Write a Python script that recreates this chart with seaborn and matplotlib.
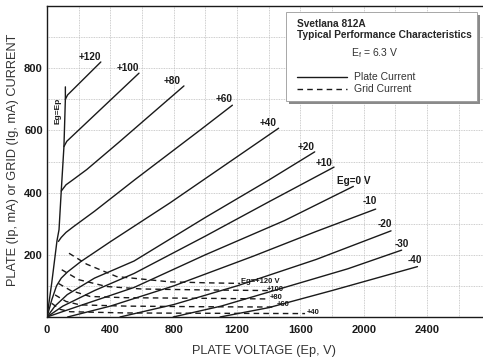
import matplotlib
matplotlib.use("Agg")
import matplotlib.pyplot as plt
import seaborn as sns
import pandas as pd
from matplotlib.patches import Rectangle
from matplotlib.lines import Line2D

# ---------------- data ----------------
x_ticks = [0, 400, 800, 1200, 1600, 2000, 2400]
y_ticks = [200, 400, 600, 800]

egep_v = [0, 30, 63, 76, 90, 107, 116, 116]
egep_i = [0, 110, 245, 281, 405, 548, 700, 740]

p120_v = [116, 130, 340]
p120_i = [700, 714, 820]
p100_v = [107, 125, 581]
p100_i = [548, 565, 784]
p80_v = [90, 120, 166, 251, 450, 865]
p80_i = [405, 425, 442, 474, 560, 743]
p60_v = [72, 90, 120, 166, 300, 556, 967, 1171]
p60_i = [243, 256, 272, 290, 340, 442, 601, 681]
p40_v = [0, 30, 60, 90, 130, 213, 400, 777, 1100, 1463]
p40_i = [0, 55, 100, 125, 145, 178, 242, 367, 480, 607]
p20_v = [0, 50, 128, 300, 550, 1000, 1400, 1691]
p20_i = [0, 35, 72, 125, 180, 320, 440, 531]
p10_v = [0, 100, 300, 550, 1000, 1400, 1813]
p10_i = [0, 35, 85, 140, 260, 370, 482]
p0_v = [0, 200, 550, 1000, 1500, 1935]
p0_i = [0, 35, 95, 200, 310, 420]
m10_v = [130, 400, 800, 1300, 1700, 2076]
m10_i = [0, 35, 100, 195, 275, 347]
m20_v = [461, 800, 1200, 1700, 2173]
m20_i = [0, 40, 100, 185, 277]
m30_v = [797, 1100, 1500, 1900, 2240]
m30_i = [0, 35, 95, 155, 215]
m40_v = [1093, 1400, 1800, 2340]
m40_i = [0, 30, 85, 162]

g120_v = [139, 250, 440, 777, 1000, 1220]
g120_i = [205, 170, 130, 113, 110, 108]
g100_v = [93, 200, 377, 600, 1000, 1400]
g100_i = [152, 120, 98, 90, 87, 85]
g80_v = [72, 150, 272, 500, 1000, 1400]
g80_i = [108, 85, 66, 62, 60, 58]
g60_v = [51, 120, 208, 500, 1000, 1440]
g60_i = [71, 50, 39, 35, 33, 32]
g40_v = [30, 80, 145, 500, 1000, 1630]
g40_i = [44, 25, 17, 13, 12, 11]

plate_labels = ["+120", "+100", "+80", "+60", "+40", "+20", "+10", "Eg=0 V", "-10", "-20", "-30", "-40"]
plate_label_v = [272, 510, 790, 1118, 1398, 1634, 1752, 1935, 2036, 2135, 2240, 2325]
plate_label_i = [835, 802, 758, 700, 625, 546, 496, 437, 372, 300, 234, 184]
grid_labels = ["Eg=+120 V", "+100", "+80", "+60", "+40"]
grid_label_v = [1228, 1388, 1409, 1451, 1640]
grid_label_i = [113, 89, 63, 39, 15]

# ---------------- figure ----------------
sns.set_theme(style="white")
plt.rcParams['font.family'] = ['Liberation Sans', 'DejaVu Sans']

W, H = 483, 359
fig = plt.figure(figsize=(4.83, 3.59), dpi=100)
ax = fig.add_axes([47 / W, 1 - 317 / H, 1 - 47 / W, (317 - 6) / H])

plate = [(egep_v, egep_i), (p120_v, p120_i), (p100_v, p100_i), (p80_v, p80_i),
         (p60_v, p60_i), (p40_v, p40_i), (p20_v, p20_i), (p10_v, p10_i),
         (p0_v, p0_i), (m10_v, m10_i), (m20_v, m20_i), (m30_v, m30_i), (m40_v, m40_i)]
grid = [(g120_v, g120_i), (g100_v, g100_i), (g80_v, g80_i), (g60_v, g60_i), (g40_v, g40_i)]

for v, i in plate:
    df = pd.DataFrame({"V": v, "I": i})
    sns.lineplot(data=df, x="V", y="I", sort=False, estimator=None, color="#1a1a1a",
                 lw=1.0, ax=ax)
for v, i in grid:
    df = pd.DataFrame({"V": v, "I": i})
    sns.lineplot(data=df, x="V", y="I", sort=False, estimator=None, color="#1a1a1a",
                 lw=1.0, ax=ax, linestyle=(0, (4, 3)))

ax.set_xlim(0, 2754)
ax.set_ylim(0, 1000)
ax.set_xticks(x_ticks)
ax.set_yticks(y_ticks)
ax.set_xticks(range(0, 2800, 200), minor=True)
ax.set_yticks(range(0, 1001, 100), minor=True)
ax.grid(which='both', color="#bdbdbd", lw=0.6, ls=(0, (1, 1)))
ax.set_axisbelow(True)
ax.tick_params(axis='both', which='both', length=0, labelsize=8, colors="#1a1a1a")
ax.tick_params(axis='x', pad=6)
ax.tick_params(axis='y', pad=3)
for lbl in ax.get_xticklabels() + ax.get_yticklabels():
    lbl.set_fontweight('bold')
for s in ['left', 'bottom', 'top']:
    ax.spines[s].set_color("#1a1a1a")
    ax.spines[s].set_linewidth(1.0)
ax.spines['right'].set_visible(False)

ax.set_xlabel("PLATE VOLTAGE (Ep, V)", fontsize=9.2, color="#333333")
ax.set_ylabel("PLATE (Ip, mA) or GRID (Ig, mA) CURRENT", fontsize=9.2, color="#333333")
ax_w = (1 - 47 / W) * W
ax.yaxis.set_label_coords((19 - 47) / ax_w, (317 - 160) / 311)
ax.xaxis.set_label_coords((264 - 47) / ax_w, -(345 - 317) / 311)

for t, v, i in zip(plate_labels, plate_label_v, plate_label_i):
    ax.text(v, i, t, fontsize=7.2, fontweight='bold', ha='center', va='center', color="#1a1a1a")
ax.text(72, 662, "Eg=Ep", fontsize=6, fontweight='bold', rotation=90, ha='center', va='center', color="#1a1a1a")
for t, v, i in zip(grid_labels, grid_label_v, grid_label_i):
    ax.text(v, i, t, fontsize=5.5, fontweight='bold', ha='left', va='center', color="#1a1a1a")

# legend box with shadow
def fx(px): return px / W
def fy(py): return 1 - py / H
fig.patches.append(Rectangle((fx(289), fy(104)), fx(477) - fx(286), fy(12) - fy(101),
                             transform=fig.transFigure, facecolor="#8a8a8a", edgecolor='none', zorder=5))
fig.patches.append(Rectangle((fx(286), fy(101)), fx(477) - fx(286), fy(12) - fy(101),
                             transform=fig.transFigure, facecolor="white", edgecolor="#999999",
                             lw=0.6, zorder=6))
fig.text(fx(297), fy(24), "Svetlana 812A", fontsize=7.3, fontweight='bold', va='center', ha='left', zorder=7)
fig.text(fx(297), fy(35), "Typical Performance Characteristics", fontsize=7.3, fontweight='bold',
         va='center', ha='left', zorder=7)
fig.text(fx(375), fy(53), r"E$_\mathregular{f}$ = 6.3 V", fontsize=7.5, va='center', ha='center',
         color="#333333", zorder=7)
fig.add_artist(Line2D([fx(297), fx(347)], [fy(77), fy(77)], transform=fig.transFigure,
                      color="#1a1a1a", lw=1.0, zorder=7))
fig.add_artist(Line2D([fx(297), fx(347)], [fy(89), fy(89)], transform=fig.transFigure,
                      color="#1a1a1a", lw=1.0, ls=(0, (4, 3)), zorder=7))
fig.text(fx(354), fy(77), "Plate Current", fontsize=7.5, va='center', ha='left', color="#333333", zorder=7)
fig.text(fx(354), fy(89), "Grid Current", fontsize=7.5, va='center', ha='left', color="#333333", zorder=7)

fig.savefig("out.png", dpi=100)
